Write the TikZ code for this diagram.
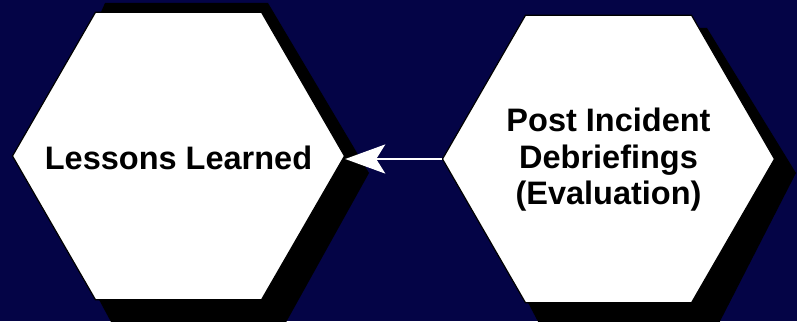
\documentclass[tikz,border=0pt]{standalone}
\usepackage{fontspec}
\setmainfont{Liberation Sans}
\usetikzlibrary{shapes.geometric}
\usetikzlibrary{arrows.meta}
\definecolor{deepnavy}{RGB}{4,4,70}

\begin{document}
\begin{tikzpicture}[x=1pt, y=-1pt,
    hexbox/.style={regular polygon, regular polygon sides=6, minimum size=332pt, inner sep=0pt, fill=white, draw=black, line width=1.2pt},
    hextext/.style={font=\fontsize{32.5}{36.5}\selectfont\bfseries, align=center, inner sep=0pt},
    flow/.style={-{Stealth[length=40pt, width=29pt, inset=9pt]}, line width=2.6pt, white}]

	\useasboundingbox (0, 0) rectangle (797, 321);
	\clip (0, 0) rectangle (797, 321);
	\fill[deepnavy] (0, 0) rectangle (797, 321);

	\fill[black] (105, 3) -- (268, 3) -- (369, 173) -- (279, 335) -- (118, 335) -- (31, 173) -- cycle;
	\fill[black] (540, 28) -- (707, 28) -- (796, 173) -- (713, 335) -- (545, 335) -- (460, 173) -- cycle;

	\node[hexbox, label={[hextext, yshift=-2pt]center:Lessons Learned}] (lessons) at (178.5, 156) {};

	\node[hexbox, label={[hextext, yshift=-1pt]center:Post Incident\\Debriefings\\(Evaluation)}] (debrief) at (608.5, 159) {};

	\draw[flow] (debrief.west) -- (debrief.west -| lessons.east);

\end{tikzpicture}
\end{document}
